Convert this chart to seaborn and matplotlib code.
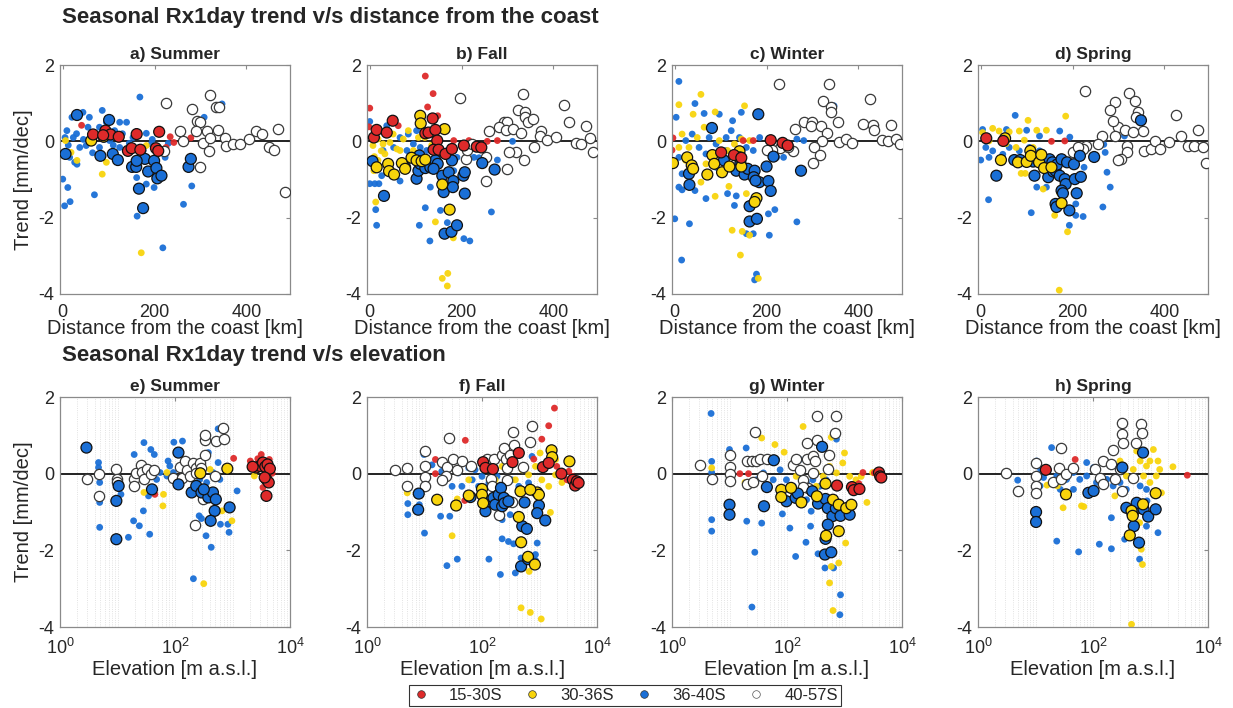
import numpy as np
import pandas as pd
import matplotlib
matplotlib.use("Agg")
import matplotlib.pyplot as plt
import seaborn as sns
from matplotlib.lines import Line2D
from matplotlib.ticker import LogLocator, NullFormatter

# Regions and colours
REGIONS = ["15-30S", "30-36S", "36-40S", "40-57S"]
COLORS = {"15-30S": "#de2a2a", "30-36S": "#f8d40c", "36-40S": "#1a6fd6", "40-57S": "white"}

SEASONS = ["Summer", "Fall", "Winter", "Spring"]
TOP_TITLES = ["a) Summer", "b) Fall", "c) Winter", "d) Spring"]
BOT_TITLES = ["e) Summer", "f) Fall", "g) Winter", "h) Spring"]

# ---- top row: (distance from the coast [km], trend [mm/dec]) ----
# a) Summer
A_RED = [(41, 0.42), (234, 0.12), (242, -0.03), (279, 0.09), (225, -0.16)]
A_RED_SIG = [(66, 0.18), (93, 0.28), (104, 0.18), (122, 0.12), (88, 0.16), (142, -0.25), (150, -0.18),
             (169, -0.22), (161, 0.19), (203, -0.18), (210, 0.25), (208, -0.25)]
A_YEL = [(6, 0.02), (31, -0.5), (86, -0.86), (95, -0.55), (171, -2.92), (182, -0.11), (18, -0.29), (165, -1.2)]
A_YEL_SIG = [(62, 0.02), (89, 0.12)]
A_BLUE = [(0, -0.99), (4, -1.69), (11, -1.21), (16, -1.58), (9, 0.28), (15, -0.42), (26, -0.55), (31, -0.6),
          (23, 0.1), (20, 0.63), (44, 0.76), (69, -1.4), (86, 0.81), (58, 0.63), (55, 0.37), (80, 0.37),
          (95, 0.5), (113, 0.28), (124, 0.5), (139, 0.5), (168, 1.16), (182, 0.21), (161, -0.95),
          (161, -1.25), (162, -1.96), (182, -1.12), (199, -1.21), (218, -2.79), (204, -0.9), (223, -0.42),
          (263, -1.65), (281, -1.17), (308, 0.63), (347, 0.98), (37, -0.16), (51, -0.11), (80, -0.16),
          (102, 0.02), (124, -0.16), (139, -0.25), (153, 0.1), (175, -0.25), (193, -0.07), (204, -0.25),
          (30, 0.2), (45, 0.05), (65, -0.3), (70, 0.15), (90, 0.05), (110, -0.1), (130, 0.2), (145, -0.05),
          (160, 0.25), (170, -0.45), (185, -0.5), (195, 0.05), (212, 0.25), (230, -0.05), (5, 0.1), (12, -0.1)]
A_BLUE_SIG = [(31, 0.69), (6, -0.33), (101, 0.56), (82, -0.38), (109, -0.33), (120, -0.49), (151, -0.67),
              (160, -0.67), (166, -1.24), (175, -1.75), (179, -0.46), (186, -0.79), (199, -0.51), (204, -0.7),
              (206, -0.97), (215, -0.9), (274, -0.67), (279, -0.46), (161, -0.51)]
A_WHITE = [(225, 1.0), (281, 0.85), (321, 1.22), (334, 0.91), (341, 0.89), (292, 0.53), (298, 0.5),
           (290, 0.28), (314, 0.26), (339, 0.31), (255, 0.28), (261, 0.02), (305, -0.05), (320, 0.09),
           (318, -0.25), (298, -0.66), (354, 0.1), (356, -0.11), (370, -0.07), (385, -0.07), (405, 0.06),
           (422, 0.26), (434, 0.19), (449, -0.14), (461, -0.23), (469, 0.32), (485, -1.34), (221, -0.25)]

# b) Fall
B_RED = [(0, 0.87), (-2, 0.38), (121, 1.71), (138, 1.25), (126, 0.9), (148, 0.67), (62, 0.41), (183, 0.02),
         (216, 0.02), (256, 0), (278, 0.02)]
B_RED_SIG = [(9, 0.1), (15, 0.3), (37, 0.23), (50, 0.54), (121, 0.21), (128, 0.23), (137, 0.6), (143, 0.3),
             (147, 0.02), (139, -0.22), (150, -0.22), (165, -0.33), (179, -0.2), (205, -0.11), (233, -0.14),
             (243, -0.16)]
B_YEL = [(7, -0.11), (18, 0.06), (29, -0.07), (44, -0.03), (59, -0.2), (73, 0.06), (84, 0.28), (95, -0.24),
         (106, 0.1), (18, -0.5), (33, -0.33), (9, -0.77), (13, -1.59), (143, -2.11), (182, -2.53),
         (158, -3.59), (169, -3.79), (170, -3.46), (66, -0.24), (51, 0.19), (120, 0.1), (10, -0.4),
         (25, -0.25), (135, -0.1)]
B_YEL_SIG = [(110, 0.67), (111, 0.47), (163, 0.32), (15, -0.68), (40, -0.59), (42, -0.78), (53, -0.87),
             (70, -0.57), (91, -0.43), (102, -0.5), (113, -0.52), (121, -0.48), (158, -1.13), (174, -1.79),
             (77, -0.72)]
B_BLUE = [(0, -1.11), (11, -1.11), (20, -1.11), (13, -1.79), (15, -2.2), (0, 0.52), (26, -0.9), (66, -1.04),
          (121, -1.74), (108, -2.2), (131, -2.61), (132, -1.2), (154, -1.81), (169, -2.13), (205, -2.55),
          (218, -2.61), (265, -1.85), (278, -0.49), (348, 0.5), (311, 0), (227, -0.42), (238, -0.43),
          (52, -0.16), (66, 0.1), (81, -0.24), (95, -0.07), (110, -0.16), (124, -0.24), (139, -0.24),
          (154, -0.33), (169, -0.24), (190, -0.42), (29, -0.24), (18, 0.28), (37, 0.41), (84, 0.19),
          (102, 0.28), (183, -0.77), (154, -1.11)]
B_BLUE_SIG = [(6, -0.52), (31, -1.43), (77, -0.68), (102, -0.98), (106, -0.77), (110, -0.59), (108, -0.37),
              (121, -0.7), (132, -0.68), (143, -0.5), (148, -0.59), (139, -0.72), (158, -0.9), (161, -1.33),
              (172, -0.81), (179, -0.5), (182, -1.04), (181, -1.2), (163, -2.42), (178, -2.37), (190, -2.2),
              (204, -0.9), (207, -1.37), (207, -0.81), (245, -0.57), (272, -0.74)]
B_WHITE = [(196, 1.13), (334, 1.25), (322, 0.82), (338, 0.78), (338, 0.64), (344, 0.5), (355, 0.58),
           (424, 0.95), (434, 0.5), (471, 0.41), (292, 0.5), (300, 0.5), (281, 0.38), (297, 0.3), (313, 0.32),
           (260, 0.28), (330, 0.23), (374, 0.28), (370, 0.15), (387, 0.03), (406, 0.12), (450, -0.05),
           (461, -0.07), (480, 0.1), (487, -0.29), (357, -0.16), (318, -0.29), (304, -0.29), (337, -0.5),
           (299, -0.72), (254, -1.03), (254, -0.42), (209, -0.46), (212, -0.24), (223, -0.07)]

# c) Winter
C_RED = [(-6, -0.23), (-4, 0.09), (149, 0.02), (171, 0.02)]
C_RED_SIG = [(101, -0.29), (129, -0.36), (145, -0.43), (209, 0.03), (235, -0.04), (246, -0.11)]
C_YEL = [(9, 0.96), (57, 1.23), (40, 0.71), (88, 0.77), (152, 0.93), (16, 0.19), (31, -0.16), (49, 0.1),
         (64, 0.37), (97, 0.02), (115, -0.24), (130, -0.07), (145, 0.06), (163, 0.02), (24, -0.5), (57, -1.07),
         (88, -1.44), (118, -1.18), (125, -2.33), (147, -2.36), (143, -2.98), (163, -2.46), (182, -3.59),
         (156, -1.37), (104, -0.5), (68, -0.59), (9, -0.16)]
C_YEL_SIG = [(-4, -0.57), (27, -0.42), (37, -0.63), (40, -0.72), (71, -0.87), (82, -0.36), (86, -0.59),
             (103, -0.81), (119, -0.66), (141, -0.26), (141, -0.42), (145, -0.66), (178, -1.49), (174, -1.59)]
C_BLUE = [(9, 1.57), (3, 0.63), (0, -2.03), (15, -3.11), (32, -2.16), (9, -1.2), (16, -1.27), (44, 0.99),
          (64, 0.73), (44, -1.29), (68, -1.5), (115, -1.37), (134, -1.43), (130, -1.68), (156, -2.42),
          (171, -2.42), (178, -3.48), (174, -3.63), (206, -2.46), (204, -1.9), (218, -1.79), (266, -2.11),
          (281, 0.02), (266, 0.06), (222, -0.42), (237, -0.42), (347, 0.93), (303, 0.5), (24, 0.02), (38, 0.19),
          (53, -0.16), (75, 0.1), (90, -0.07), (112, 0.1), (123, 0.28), (141, 0.1), (156, -0.16), (31, -0.42),
          (68, -0.33), (90, -0.68), (112, -0.24), (171, -0.24), (185, 0.1), (9, -0.42), (16, -0.85), (97, 0.71),
          (126, 0.54), (145, 0.76)]
C_BLUE_SIG = [(81, 0.35), (182, 0.71), (31, -0.85), (32, -1.14), (107, -0.5), (134, -0.77), (143, -0.57),
              (152, -0.87), (159, -0.72), (174, -0.77), (172, -0.94), (184, -1.07), (204, -1.04), (209, -1.3),
              (200, -0.66), (215, -0.4), (275, -0.77), (163, -1.7), (163, -2.1), (179, -2.03), (176, -1.03)]
C_WHITE = [(228, 1.51), (336, 1.5), (324, 1.06), (341, 0.9), (340, 0.77), (356, 0.5), (426, 1.1), (281, 0.5),
           (299, 0.5), (296, 0.41), (318, 0.41), (263, 0.32), (331, 0.23), (409, 0.45), (431, 0.43), (435, 0.3),
           (472, 0.43), (321, 0.02), (358, -0.03), (373, 0.06), (387, -0.05), (303, -0.16), (316, -0.36),
           (301, -0.57), (257, -0.26), (229, -0.17), (211, -0.23), (200, -0.24), (451, 0.03), (465, 0.02),
           (483, 0.06), (490, -0.07), (246, -0.14)]

# d) Spring
D_RED = [(154, 0), (183, 0.01)]
D_RED_SIG = [(12, 0.08), (49, 0.01)]
D_YEL = [(4, 0.23), (26, 0.34), (40, 0.27), (62, 0.25), (84, 0.27), (103, 0.55), (122, 0.29), (143, 0.29),
         (185, 0.66), (18, 0.01), (55, -0.06), (77, -0.16), (95, 0.03), (114, -0.16), (88, -0.84), (97, -0.84),
         (161, -1.94), (189, -2.37), (171, -3.9), (172, -1.36), (136, -1.25), (117, -0.51)]
D_YEL_SIG = [(53, 0.08), (44, -0.49), (81, -0.55), (100, -0.54), (108, -0.25), (109, -0.38), (127, -0.55),
             (132, -0.35), (138, -0.7), (154, -0.68), (176, -1.62)]
D_BLUE = [(4, 0.31), (0, -0.49), (17, -1.53), (56, 0.31), (75, 0.68), (100, 0.29), (128, 0.14), (172, 0.27),
          (194, 0.11), (26, -0.25), (48, -0.34), (62, -0.16), (84, -0.25), (106, -0.16), (128, -0.25),
          (110, -1.87), (122, -1.2), (143, -1.2), (207, -1.94), (223, -1.97), (193, -2.2), (207, -1.64),
          (225, -0.68), (275, -0.81), (266, -1.72), (282, -1.2), (271, -0.29), (268, -0.08), (313, 0.14),
          (11, -0.16), (18, -0.42)]
D_BLUE_SIG = [(34, -0.9), (73, -0.49), (86, -0.49), (114, -0.53), (117, -0.9), (139, -0.51), (147, -0.94),
              (150, -0.47), (156, -0.55), (158, -0.79), (163, -0.77), (166, -0.61), (176, -0.47), (172, -0.9),
              (183, -0.99), (185, -1.12), (176, -1.29), (179, -1.36), (163, -1.64), (165, -1.72), (193, -1.81),
              (188, -0.55), (203, -0.6), (216, -0.38), (205, -0.99), (218, -0.93), (209, -1.36), (247, -0.41),
              (349, 0.55)]
D_WHITE = [(227, 1.31), (324, 1.26), (293, 1.03), (282, 0.81), (335, 1.05), (342, 0.77), (339, 0.63),
           (426, 0.68), (354, 0.27), (298, 0.37), (315, 0.31), (331, 0.25), (293, 0.14), (264, 0.14),
           (256, -0.06), (229, -0.12), (222, -0.21), (201, -0.28), (212, -0.16), (319, -0.12), (318, -0.29),
           (306, -0.45), (300, -0.49), (355, -0.25), (370, -0.21), (379, 0.01), (390, -0.21), (410, -0.01),
           (436, 0.14), (451, -0.12), (464, -0.12), (473, 0.31), (484, -0.14), (491, -0.58), (289, 0.53)]

# ---- bottom row: (log10 elevation [m a.s.l.], trend [mm/dec]) ----
# e) Summer
E_RED = [(1.65, -0.54), (3.02, 0.4), (3.5, 0.5), (3.44, 0.39), (3.64, 0.37), (3.69, 0.01), (3.53, -0.36),
         (3.31, 0.33)]
E_RED_SIG = [(3.41, 0.16), (3.48, 0.2), (3.53, 0.29), (3.57, 0.18), (3.61, 0.24), (3.65, 0.13), (3.59, -0.15),
             (3.63, -0.23), (3.56, -0.1), (3.59, -0.58), (3.35, 0.18)]
E_YEL = [(1.46, -0.49), (1.79, -0.84), (1.80, -0.54), (1.86, 0.03), (2.50, -2.87), (2.82, -0.97),
         (2.99, -1.23), (3.31, 0.16), (3.38, -0.06), (2.61, 0.11)]
E_YEL_SIG = [(2.44, 0.01), (2.91, 0.13)]
E_BLUE = [(0.67, 0.29), (0.67, 0.16), (0.69, -0.23), (0.69, -0.75), (0.69, -1.4), (1.06, -0.54), (1.19, -1.66),
          (1.29, 0.5), (1.28, -1.23), (1.38, -1.36), (1.45, -0.97), (1.46, 0.81), (1.56, -1.58), (1.58, 0.63),
          (1.64, 0.5), (1.88, 0.33), (1.98, 0.82), (2.13, 0.85), (2.32, -2.74), (2.42, -1.1), (2.46, -1.17),
          (2.54, -1.62), (2.63, -1.92), (2.79, -1.32), (2.92, -1.32), (2.94, -1.53), (2.75, 1.17), (2.75, 0.29),
          (2.58, 0.55), (3.08, -0.45), (1.74, 0.03), (1.86, -0.06), (1.97, 0.03), (2.20, -0.06), (1.91, 0.2),
          (2.32, 0.03), (2.43, -0.15), (2.55, -0.23), (2.66, 0.03), (2.78, -0.15), (2.89, 0.11), (2.09, -0.15),
          (1.68, -0.15), (1.39, -0.06), (1.54, -0.58)]
E_BLUE_SIG = [(0.46, 0.68), (0.98, -0.71), (0.98, -1.71), (1.02, -0.32), (1.60, -0.41), (2.06, 0.55),
              (2.06, -0.28), (2.29, -0.49), (2.37, -0.32), (2.46, -0.49), (2.58, -0.62), (2.66, -0.49),
              (2.71, -0.67), (2.69, -0.97), (2.62, -1.23), (2.95, -0.88), (2.50, -0.41)]
E_WHITE = [(0.47, -0.13), (0.67, -0.02), (0.67, -0.58), (0.98, 0.11), (0.99, -0.13), (0.99, -0.23),
           (1.28, -0.15), (1.28, -0.32), (1.33, 0.01), (1.41, 0.22), (1.42, 0.04), (1.46, -0.13), (1.51, 0.11),
           (1.58, -0.02), (1.64, 0.1), (1.97, -0.1), (2.09, 0.18), (2.12, -0.1), (2.17, 0.33), (2.20, 0.1),
           (2.26, -0.06), (2.32, 0.29), (2.37, 0.16), (2.43, 0.29), (2.46, 0.16), (2.52, 0.5), (2.52, 0.89),
           (2.52, 1.0), (2.72, 0.85), (2.69, -0.06), (2.84, 1.19), (2.85, 0.91), (2.48, -0.65), (2.35, -1.33),
           (2.37, 0.03)]

# f) Fall
F_RED = [(1.19, 0.37), (1.19, 0), (1.71, 0.87), (1.70, -0.7), (2.90, 0.38), (3.04, 0.9), (3.16, 1.25),
         (3.26, 1.71), (3.30, 0.19), (3.51, 0.06), (3.48, -0.16), (3.57, -0.07)]
F_RED_SIG = [(2.02, 0.3), (2.06, 0.15), (2.19, 0.12), (2.53, 0.3), (2.64, 0.54), (3.06, 0.17), (3.16, 0.28),
             (3.38, 0), (3.58, -0.16), (3.62, -0.31), (3.65, -0.2), (3.68, -0.24)]
F_YEL = [(0.7, -0.5), (1.48, -1.62), (1.57, -0.66), (1.77, -0.16), (2.46, 0.1), (2.58, -0.16), (2.70, 0.1),
         (2.81, -0.03), (2.93, 0.19), (3.01, 0.54), (3.04, -0.16), (3.16, -0.33), (3.19, -1.01), (3.28, 0.37),
         (3.39, -0.23), (2.68, -3.5), (2.84, -3.62), (3.03, -3.79), (2.82, -2.55), (3.28, -0.03), (2.35, 0.19),
         (2.23, -0.16)]
F_YEL_SIG = [(1.22, -0.68), (1.55, -0.83), (1.77, -0.57), (2.0, -0.4), (2.0, -0.55), (2.02, -0.77),
             (2.64, -1.13), (2.68, -1.79), (2.80, -2.17), (2.92, -2.37), (2.96, -0.49), (2.99, -0.55),
             (3.21, 0.61), (3.22, 0.43), (3.52, 0.32), (2.67, -0.46), (2.84, -0.42)]
F_BLUE = [(0.91, -0.81), (0.71, -0.78), (0.71, -1.07), (1.0, -1.55), (0.99, 0.5), (1.13, 0.23), (1.28, -1.11),
          (1.44, -1.11), (1.39, -2.4), (1.57, -2.23), (1.77, 0.15), (1.88, 0.1), (2.12, -2.23), (2.17, -0.31),
          (2.32, -2.63), (2.35, -1.7), (2.46, -1.77), (2.55, -1.83), (2.58, -2.59), (2.68, -2.2), (2.93, -2.26),
          (2.96, -1.81), (2.93, -2.11), (2.49, -1.07), (2.35, -1.2), (1.83, -0.16), (1.94, -0.33), (1.65, -0.33),
          (1.48, -0.33), (2.0, -0.07), (2.12, -0.24), (2.26, -0.07), (2.41, -0.24), (2.52, -0.16), (2.64, -0.33),
          (2.81, -0.24), (2.87, 0.45), (1.36, -0.16), (1.3, 0.06), (1.59, 0.02)]
F_BLUE_SIG = [(0.89, -0.94), (0.9, -0.52), (1.8, -0.61), (2.06, -0.98), (2.12, -0.72), (2.2, -0.63),
              (2.23, -0.81), (2.29, -0.55), (2.33, -0.37), (2.35, -0.85), (2.38, -0.63), (2.39, -0.77),
              (2.46, -0.72), (2.70, -1.37), (2.78, -1.44), (2.68, -2.42), (2.80, -2.23), (2.74, -0.75),
              (2.99, -0.83), (2.96, -1.03), (3.10, -1.22)]
F_WHITE = [(0.48, 0.09), (0.7, 0.15), (0.7, -0.31), (1.0, 0.58), (1.0, 0.21), (1.0, -0.09), (1.0, -0.31),
           (1.3, 0.3), (1.39, 0.17), (1.43, 0.93), (1.49, 0.38), (1.37, -0.07), (1.3, -0.16), (1.57, 0.09),
           (1.65, 0.32), (1.8, 0.19), (2.09, 0.37), (2.16, -0.14), (2.2, 0.37), (2.35, 0.5), (2.38, 0.67),
           (2.41, 0.37), (2.43, 0.15), (2.49, 0.5), (2.54, 1.1), (2.55, 0.76), (2.72, 0.17), (2.87, 1.25),
           (2.84, 0.82), (2.29, -1.07), (2.53, -0.75), (2.17, -0.33), (2.43, -0.16)]

# g) Winter
G_RED = [(1.18, 0), (1.33, 0), (3.25, -0.26), (3.32, 0.03), (3.52, 0.02)]
G_RED_SIG = [(2.87, -0.31), (3.13, -0.35), (3.16, -0.43), (3.26, -0.4), (3.6, 0.03), (3.62, -0.07),
             (3.64, -0.1)]
G_YEL = [(0.69, 0.15), (1.27, -0.23), (1.56, 0.93), (1.79, 0.76), (1.95, 0.56), (2.28, 1.23), (2.42, 0.37),
         (2.51, 0.02), (2.63, -0.07), (2.74, 0.19), (2.86, 0.02), (2.97, 0.28), (3.09, -0.07), (3.2, -0.16),
         (3.39, -0.75), (3.02, -1.81), (2.74, -2.85), (2.8, -3.57), (2.9, -2.33), (2.77, -2.42), (2.51, -0.33),
         (2.16, -0.07), (2.77, 0.95), (3.0, 0.54), (3.29, -0.07), (3.49, 0.03)]
G_YEL_SIG = [(1.9, -0.42), (1.9, -0.61), (2.07, -0.37), (2.25, -0.75), (2.52, -0.59), (2.67, -0.26),
             (2.8, -0.68), (2.9, -0.81), (3.03, -0.9), (3.12, -0.81), (2.9, -1.5), (2.68, -1.62)]
G_BLUE = [(0.68, 1.57), (0.69, 0.32), (0.69, 0.03), (0.69, -1.2), (0.69, -1.5), (1.0, 0.63), (1.29, 0.67),
          (1.3, -1.24), (1.44, -2.05), (1.39, -3.48), (1.56, -1.29), (1.92, -1.05), (2.05, -1.42), (2.15, -2.16),
          (2.33, -1.79), (2.41, -1.37), (2.54, -2.09), (2.66, -2.46), (2.81, -2.46), (2.93, -3.16), (2.92, -3.68),
          (2.86, 0.9), (1.47, -0.16), (1.59, 0.02), (1.76, -0.16), (1.88, 0.1), (1.99, -0.16), (2.11, -0.33),
          (2.22, -0.07), (2.34, -0.24), (2.45, -0.16), (2.57, -0.33), (2.68, -0.16), (2.22, 0.37), (1.82, 0.37),
          (2.34, -0.68), (2.42, -0.98)]
G_BLUE_SIG = [(1.0, -0.81), (1.0, -1.07), (1.65, -0.35), (1.60, -0.85), (1.77, 0.35), (1.99, -0.72),
              (2.15, -0.63), (2.19, -0.52), (2.44, -0.46), (2.54, -0.78), (2.61, 0.7), (2.67, -0.66),
              (2.71, -0.9), (2.79, -1.11), (2.71, -1.33), (2.67, -1.7), (2.66, -2.11), (2.77, -2.05),
              (2.85, -0.9), (2.93, -1.1), (3.09, -1.07)]
G_WHITE = [(0.48, 0.23), (0.69, -0.14), (1.0, 0.5), (1.0, 0.17), (1.0, 0), (1.0, -0.2), (1.3, 0.32),
           (1.3, -0.26), (1.44, 1.08), (1.39, 0.32), (1.46, 0.32), (1.53, 0.37), (1.56, -0.07), (1.65, 0.38),
           (1.4, -0.23), (2.11, 0.23), (2.16, 0.38), (2.22, 0.09), (2.28, -0.16), (2.34, 0.8), (2.34, 0.38),
           (2.37, -0.37), (2.45, 0.47), (2.48, 0.32), (2.52, 0.89), (2.52, 1.51), (2.73, 0.5), (2.71, 0.12),
           (2.83, 1.06), (2.86, 1.5), (2.45, 0.02), (2.28, -0.35)]

# h) Spring
H_RED = [(1.69, 0.37), (3.64, -0.04)]
H_RED_SIG = [(1.18, 0.1)]
H_YEL = [(1.2, -0.3), (1.38, -0.32), (1.48, -0.89), (1.8, -0.84), (1.84, -0.86), (2.47, 0.33), (2.7, 0.11),
         (2.76, 0.59), (2.82, 0.33), (2.93, 0.2), (2.99, 0.33), (3.05, 0.63), (3.13, 0.33), (3.16, 0.11),
         (3.1, -0.06), (2.99, -0.23), (2.88, -0.06), (3.19, -0.5), (3.39, 0.18), (2.86, -2.37), (2.84, -1.97),
         (2.67, -3.93), (2.81, -1.28), (2.58, -0.06), (2.38, -0.58), (2.5, -0.5)]
H_YEL_SIG = [(1.53, -0.54), (2.67, -0.97), (2.69, -1.1), (3.09, -0.51), (2.64, -1.61), (2.87, -0.8)]
H_BLUE = [(0.69, -0.17), (1.02, 0.33), (1.09, 0.11), (1.28, 0.68), (1.37, -1.76), (1.75, -2.04), (2.11, -1.84),
          (2.32, -1.96), (2.32, -1.15), (2.55, -1.71), (2.64, -1.63), (2.81, -2.23), (2.93, -1.37),
          (2.94, -0.71), (3.13, -1.54), (1.37, -0.06), (1.54, -0.15), (1.66, 0.03), (1.77, -0.15), (1.89, -0.06),
          (2.06, -0.23), (2.24, -0.15), (2.35, -0.32), (2.47, -0.23), (2.58, -0.41), (2.7, -0.15), (2.82, -0.32),
          (2.93, -0.41), (1.43, -0.41), (1.66, -0.41), (1.89, 0.29), (2.01, 0.16), (2.24, 0.29), (2.41, 0.2),
          (1.08, -0.32), (1.14, -0.1)]
H_BLUE_SIG = [(1.01, -1.0), (1.01, -1.26), (1.92, -0.5), (2.01, -0.45), (2.51, 0.16), (2.58, -0.89),
              (2.69, -1.06), (2.71, -1.37), (2.8, -1.8), (2.81, -0.89), (2.87, 0.55), (2.88, -0.93),
              (2.96, -1.12), (3.09, -0.93), (2.76, -0.76)]
H_WHITE = [(0.49, 0.03), (0.7, -0.45), (1.01, 0.27), (1.01, -0.06), (1.01, -0.32), (1.01, -0.5), (1.31, -0.23),
           (1.4, 0.16), (1.44, 0.68), (1.44, -0.15), (1.53, 0), (1.66, 0.16), (2.03, 0.11), (2.18, 0.33),
           (2.12, -0.1), (2.17, -0.28), (2.32, 0.24), (2.35, 0.63), (2.38, -0.15), (2.47, 0.13), (2.51, 1.33),
           (2.51, 1.03), (2.53, 0.81), (2.5, -0.45), (2.7, -0.1), (2.75, 0.81), (2.84, 1.3), (2.86, 1.07)]

TOP_PANELS = [
    (A_RED, A_RED_SIG, A_YEL, A_YEL_SIG, A_BLUE, A_BLUE_SIG, A_WHITE),
    (B_RED, B_RED_SIG, B_YEL, B_YEL_SIG, B_BLUE, B_BLUE_SIG, B_WHITE),
    (C_RED, C_RED_SIG, C_YEL, C_YEL_SIG, C_BLUE, C_BLUE_SIG, C_WHITE),
    (D_RED, D_RED_SIG, D_YEL, D_YEL_SIG, D_BLUE, D_BLUE_SIG, D_WHITE),
]
BOT_PANELS = [
    (E_RED, E_RED_SIG, E_YEL, E_YEL_SIG, E_BLUE, E_BLUE_SIG, E_WHITE),
    (F_RED, F_RED_SIG, F_YEL, F_YEL_SIG, F_BLUE, F_BLUE_SIG, F_WHITE),
    (G_RED, G_RED_SIG, G_YEL, G_YEL_SIG, G_BLUE, G_BLUE_SIG, G_WHITE),
    (H_RED, H_RED_SIG, H_YEL, H_YEL_SIG, H_BLUE, H_BLUE_SIG, H_WHITE),
]


def to_frame(panel, log=False):
    red, red_s, yel, yel_s, blue, blue_s, white = panel
    parts = [("36-40S", blue, False), ("30-36S", yel, False), ("15-30S", red, False),
             ("40-57S", white, False),
             ("36-40S", blue_s, True), ("30-36S", yel_s, True), ("15-30S", red_s, True)]
    rows = []
    for reg, pts, sig in parts:
        for x, y in pts:
            rows.append({"x": 10 ** x if log else x, "y": y, "region": reg, "sig": sig})
    return pd.DataFrame(rows)


def draw_panel(ax, df):
    small = df[(~df["sig"]) & (df["region"] != "40-57S")]
    white = df[df["region"] == "40-57S"]
    sig = df[df["sig"]]
    ax.axhline(0, color="#222222", lw=1.4, zorder=1.5)
    sns.scatterplot(data=small, x="x", y="y", hue="region", palette=COLORS, s=24, linewidth=0,
                    alpha=0.95, legend=False, ax=ax, zorder=2)
    sns.scatterplot(data=white, x="x", y="y", color="white", edgecolor="#3a3a3a", linewidth=0.9,
                    s=55, legend=False, ax=ax, zorder=3)
    sns.scatterplot(data=sig, x="x", y="y", hue="region", palette=COLORS, s=62, edgecolor="#111111",
                    linewidth=0.9, legend=False, ax=ax, zorder=4)
    ax.set_ylim(-4, 2)
    ax.set_yticks([-4, -2, 0, 2])
    ax.tick_params(direction="in", top=True, right=True, length=3, color="#8a8a8a",
                   labelsize=13, labelcolor="#262626", pad=4)
    for sp in ax.spines.values():
        sp.set_color("#8a8a8a")
        sp.set_linewidth(0.9)


sns.set_style("white")
plt.rcParams["font.family"] = ["Liberation Sans", "DejaVu Sans"]
plt.rcParams["axes.unicode_minus"] = False
plt.rcParams["mathtext.fontset"] = "custom"
plt.rcParams["mathtext.rm"] = "Liberation Sans"
plt.rcParams["mathtext.it"] = "Liberation Sans:italic"
plt.rcParams["mathtext.bf"] = "Liberation Sans:bold"

fig = plt.figure(figsize=(12.33, 7.08), dpi=100)
W, H = 1233, 708
lefts = [60, 367, 672, 978]
width = 230

for i in range(4):
    ax = fig.add_axes([lefts[i] / W, 1 - 294 / H, width / W, 229 / H])
    draw_panel(ax, to_frame(TOP_PANELS[i]))
    ax.set_xlim(-6, 495)
    ax.set_xticks([0, 200, 400])
    ax.tick_params(axis="x", pad=7)
    ax.set_title(TOP_TITLES[i], fontsize=12.5, fontweight="bold", pad=4)
    ax.set_xlabel("Distance from the coast [km]", fontsize=14.5, labelpad=-1)
    ax.set_ylabel("Trend [mm/dec]" if i == 0 else "", fontsize=14.5, labelpad=4)

for i in range(4):
    ax = fig.add_axes([lefts[i] / W, 1 - 627 / H, width / W, 230 / H])
    ax.set_xscale("log")
    ax.set_xlim(1, 1e4)
    ax.xaxis.set_minor_locator(LogLocator(base=10, subs=np.arange(1, 10), numticks=20))
    ax.xaxis.set_minor_formatter(NullFormatter())
    ax.grid(which="minor", axis="x", color="#d9d9d9", linestyle=":", linewidth=0.6)
    ax.grid(which="major", axis="x", color="#d9d9d9", linestyle=":", linewidth=0.6)
    ax.set_axisbelow(True)
    draw_panel(ax, to_frame(BOT_PANELS[i], log=True))
    ax.set_xticks([1, 100, 10000])
    ax.set_xticklabels([r"$10^0$", r"$10^2$", r"$10^4$"])
    ax.tick_params(axis="x", which="major", pad=8)
    ax.tick_params(axis="x", which="minor", length=0)
    ax.set_title(BOT_TITLES[i], fontsize=12.5, fontweight="bold", pad=4)
    ax.set_xlabel("Elevation [m a.s.l.]", fontsize=14.5, labelpad=1)
    ax.set_ylabel("Trend [mm/dec]" if i == 0 else "", fontsize=14.5, labelpad=4)

fig.text(62 / W, 1 - 18 / H, "Seasonal Rx1day trend v/s distance from the coast", fontsize=16,
         fontweight="bold", va="center", ha="left")
fig.text(62 / W, 1 - 356 / H, "Seasonal Rx1day trend v/s elevation", fontsize=16,
         fontweight="bold", va="center", ha="left")

handles = [Line2D([], [], ls="", marker="o", markersize=5.5, markerfacecolor=COLORS[r],
                  markeredgecolor="#555555" if r == "40-57S" else "#333333", markeredgewidth=0.5)
           for r in REGIONS]
leg = fig.legend(handles, REGIONS, loc="lower center", bbox_to_anchor=(0.507, 0.0), ncol=4,
                 fontsize=12, frameon=True, fancybox=False, edgecolor="black", handlelength=1.0,
                 handletextpad=1.2, columnspacing=1.3, borderpad=0.2, borderaxespad=0.1)
leg.get_frame().set_linewidth(0.8)

fig.savefig("out.png", dpi=100)
